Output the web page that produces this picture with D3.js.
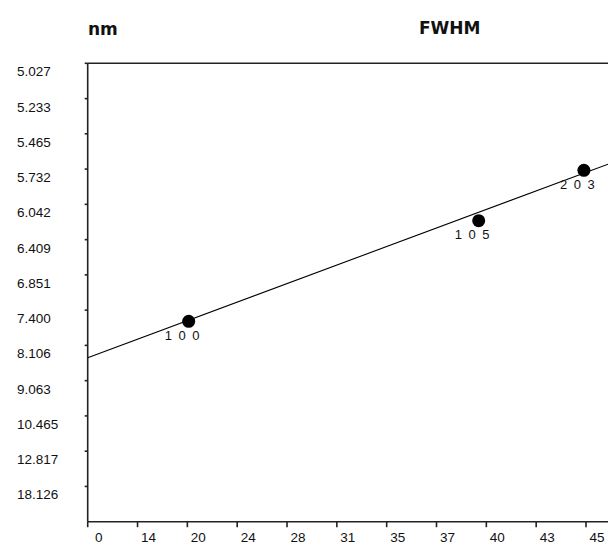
<!DOCTYPE html>
<html>
<head>
<meta charset="utf-8">
<script src="https://cdn.jsdelivr.net/npm/d3@7"></script>
<style>
  html, body { margin: 0; padding: 0; background: #fff; }
  svg { display: block; }
  .tick-label { font-family: "Liberation Sans", Arial, sans-serif; font-size: 13.5px; fill: #111; }
  .title { font-family: "DejaVu Sans", sans-serif; font-weight: bold; font-size: 17px; fill: #111; }
  .hkl { font-family: "Liberation Sans", Arial, sans-serif; font-size: 13px; letter-spacing: 1.5px; fill: #111; }
</style>
</head>
<body>
<svg id="chart" width="608" height="545"></svg>
<script>
// Reflections (hkl), peak position 2θ (degrees) and crystallite size (nm)
const reflections = ["1 0 0", "1 0 5", "2 0 3"];
const twoTheta = [19.84, 39.63, 44.90];
const sizeNm = [7.603, 6.204, 5.742];

// Linear fit in the plotted space: 1/D² = fitIntercept + fitSlope · sin²θ
const fitIntercept = 0.014156;
const fitSlope = 0.10922;

// Axis tick labels: 2θ (evenly spaced in sin²θ) and size in nm (evenly spaced in 1/D²)
const xTickLabels = ["0", "14", "20", "24", "28", "31", "35", "37", "40", "43", "45"];
const yTickLabels = ["5.027", "5.233", "5.465", "5.732", "6.042", "6.409", "6.851",
                     "7.400", "8.106", "9.063", "10.465", "12.817", "18.126"];

const W = 608, H = 545;
const plotLeft = 87.7, plotRight = 608, plotTop = 63.3, plotBottom = 521.7;

const sin2 = deg => Math.pow(Math.sin(deg / 2 * Math.PI / 180), 2);
const xMaxS = sin2(45);                       // sin²θ at the last tick
const xStep = xMaxS / (xTickLabels.length - 1);
const yStep = 1 / Math.pow(+yTickLabels[yTickLabels.length - 1], 2);
const yMaxS = yStep * yTickLabels.length;      // top edge of the plot

const xLin = d3.scaleLinear().domain([0, xMaxS]).range([plotLeft, 586]);
const yLin = d3.scaleLinear().domain([0, yMaxS]).range([plotBottom, plotTop]);
const xPos = deg => xLin(sin2(deg));
const yPos = nm => yLin(1 / (nm * nm));

const svg = d3.select("#chart");
svg.append("rect").attr("width", W).attr("height", H).attr("fill", "#fff");

// Frame: left axis, top rule, bottom axis
const frame = svg.append("g").attr("stroke", "#222").attr("stroke-width", 1.6).attr("fill", "none");
frame.append("line").attr("x1", plotLeft).attr("x2", plotLeft).attr("y1", plotTop).attr("y2", plotBottom);
frame.append("line").attr("x1", plotLeft).attr("x2", plotRight).attr("y1", plotTop).attr("y2", plotTop);
frame.append("line").attr("x1", plotLeft).attr("x2", plotRight).attr("y1", plotBottom).attr("y2", plotBottom);

// X ticks and labels
const xg = svg.append("g");
xTickLabels.forEach((lab, i) => {
  const x = xLin(i * xStep);
  xg.append("line").attr("x1", x).attr("x2", x).attr("y1", plotBottom).attr("y2", plotBottom + 5.5)
    .attr("stroke", "#222").attr("stroke-width", 1.6);
  xg.append("text").attr("class", "tick-label").attr("x", x + 11).attr("y", 541.5)
    .attr("text-anchor", "middle").text(lab);
});

// Y ticks and labels (label value gives the tick position through 1/D²)
const yg = svg.append("g");
yTickLabels.forEach((lab, i) => {
  const y = i === 0 ? plotTop : yPos(+lab);
  yg.append("line").attr("x1", plotLeft - 3).attr("x2", plotLeft).attr("y1", y).attr("y2", y)
    .attr("stroke", "#222").attr("stroke-width", 1.6);
  yg.append("text").attr("class", "tick-label").attr("x", 17).attr("y", y + 13).text(lab);
});

// Titles
svg.append("text").attr("class", "title").attr("x", 88).attr("y", 35).text("nm");
svg.append("text").attr("class", "title").attr("x", 419).attr("y", 33.5).text("FWHM");

// Fit line across the plot area
const xRightS = xLin.invert(plotRight);
svg.append("line")
  .attr("x1", xLin(0)).attr("y1", yLin(fitIntercept))
  .attr("x2", xLin(xRightS)).attr("y2", yLin(fitIntercept + fitSlope * xRightS))
  .attr("stroke", "#000").attr("stroke-width", 1.1);

// Data points and hkl labels
const pts = reflections.map((r, i) => ({ hkl: r, tt: twoTheta[i], d: sizeNm[i] }));
const pg = svg.append("g");
pg.selectAll("circle").data(pts).join("circle")
  .attr("cx", d => xPos(d.tt)).attr("cy", d => yPos(d.d)).attr("r", 6.5).attr("fill", "#000");
pg.selectAll("text").data(pts).join("text")
  .attr("class", "hkl")
  .attr("x", d => xPos(d.tt) - 24).attr("y", d => yPos(d.d) + 18.5)
  .text(d => d.hkl);
</script>
</body>
</html>
